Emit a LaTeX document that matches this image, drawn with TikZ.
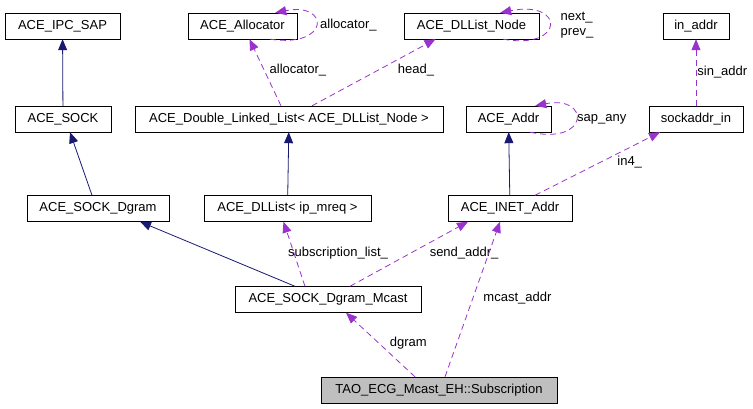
\documentclass[tikz,border=0pt]{standalone}
\usepackage{fontspec}
\setmainfont{Liberation Sans}
\usepackage{tikz}
\usetikzlibrary{arrows.meta}
\definecolor{inhblue}{HTML}{191970}
\definecolor{usepurple}{HTML}{9A32CD}

\begin{document}
\begin{tikzpicture}[
        x=1pt, y=-1pt,
        font=\fontsize{13}{15}\selectfont,
        cls/.style={rectangle, draw, minimum height=26pt, inner sep=0pt},
        inherit/.style={draw=inhblue, line width=0.8pt, -{Triangle[length=11pt, width=9pt]}},
        member/.style={draw=usepurple, line width=0.8pt, dash pattern=on 6pt off 4pt,
            -{Triangle[length=11pt, width=9pt]}},
        lbl/.style={inner sep=1pt}
        ]
        \useasboundingbox (0,0) rectangle (753,408);

        % classes
        \node[cls, minimum width=115pt] (ipcsap) at (62.5,26) {ACE\_IPC\_SAP};
        \node[cls, minimum width=109pt] (alloc) at (242.5,26) {ACE\_Allocator};
        \node[cls, minimum width=135pt] (dllnode) at (471.5,26) {ACE\_DLList\_Node};
        \node[cls, minimum width=66pt] (inaddr) at (696,26) {in\_addr};

        \node[cls, minimum width=96pt] (sock) at (63,119) {ACE\_SOCK};
        \node[cls, minimum width=308pt] (dlist) at (289,119) {ACE\_Double\_Linked\_List< ACE\_DLList\_Node >};
        \node[cls, minimum width=85pt] (addr) at (508.5,119) {ACE\_Addr};
        \node[cls, minimum width=94pt] (sockaddr) at (696,119) {sockaddr\_in};

        \node[cls, minimum width=142pt] (sockdgram) at (98,208.5) {ACE\_SOCK\_Dgram};
        \node[cls, minimum width=167pt] (dllip) at (287.5,208.5) {ACE\_DLList< ip\_mreq >};
        \node[cls, minimum width=124pt] (inet) at (510,208.5) {ACE\_INET\_Addr};

        \node[cls, minimum width=186pt] (mcast) at (328,299.5) {ACE\_SOCK\_Dgram\_Mcast};
        \node[cls, minimum width=236pt, fill=gray!50] (sub) at (439,390) {TAO\_ECG\_Mcast\_EH::Subscription};

        % inheritance
        \draw[inherit] (sock) -- (ipcsap);
        \draw[inherit] ([xshift=-6pt]sockdgram.north) -- ([xshift=7pt]sock.south);
        \draw[inherit] (dllip) -- (dlist);
        \draw[inherit] (inet) -- (addr);
        \draw[inherit] ([xshift=-33pt]mcast.north) -- ([xshift=42pt]sockdgram.south);

        % members
        \draw[member] ([xshift=-8pt]dlist.north) -- node[lbl, right=4pt, pos=.53] {allocator\_} ([xshift=7pt]alloc.south);
        \draw[member] ([xshift=23pt]dlist.north) -- node[lbl, right=19pt, pos=.53] {head\_} ([xshift=-36pt]dllnode.south);
        \draw[member] (sockaddr) -- node[lbl, right=0pt] {sin\_addr} (inaddr);
        \draw[member] ([xshift=25pt]inet.north) -- node[lbl, right=16pt, pos=.52] {in4\_} ([xshift=-36pt]sockaddr.south);
        \draw[member] ([xshift=-23pt]mcast.north) -- node[lbl, anchor=west, xshift=-7pt, pos=.52] {subscription\_list\_} ([xshift=-4pt]dllip.south);
        \draw[member] ([xshift=22pt]mcast.north) -- node[lbl, right=17pt, pos=.52] {send\_addr\_} ([xshift=-42pt]inet.south);
        \draw[member] ([xshift=6pt]sub.north) -- node[lbl, right=9pt, pos=.51] {mcast\_addr} ([xshift=-10pt]inet.south);
        \draw[member] ([xshift=-24pt]sub.north) -- node[lbl, right=10pt, pos=.53] {dgram} ([xshift=18pt]mcast.south);

        % self references
        \draw[member] ([xshift=-27pt]alloc.south east) .. controls +(60,9) and +(55,-11) .. node[lbl, right=3pt] {allocator\_} ([xshift=-22pt]alloc.north east);
        \draw[member] ([xshift=-36pt]dllnode.south east) .. controls +(62,11) and +(65,-13) .. node[lbl, right=10pt, align=left] {next\_\\prev\_} ([xshift=-39pt]dllnode.north east);
        \draw[member] ([xshift=-21pt]addr.south east) .. controls +(60,13) and +(55,-11) .. node[lbl, right=0pt] {sap\_any} ([xshift=-16pt]addr.north east);
\end{tikzpicture}
\end{document}
